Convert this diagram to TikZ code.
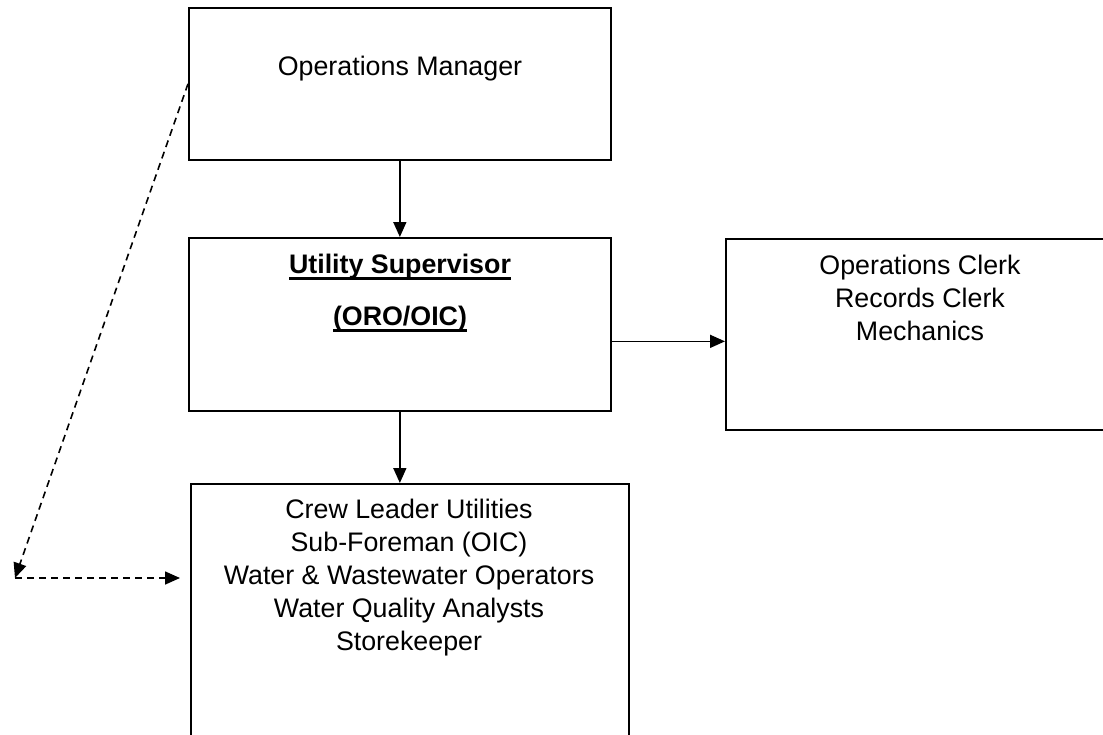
\documentclass[tikz,border=0pt]{standalone}
\usepackage{fontspec}
\setmainfont{Liberation Sans}
\usetikzlibrary{arrows.meta}
\newcommand\myul[1]{\setbox0\hbox{#1}\rlap{\rule[-6.5pt]{\wd0}{2.8pt}}\box0}
\begin{document}
\begin{tikzpicture}[x=1pt,y=-1pt,
  box/.style={draw,line width=1.7pt,rectangle,inner sep=0pt,anchor=north west},
  lbl/.style={font=\fontsize{26.8}{33}\selectfont,align=center,inner sep=0pt,anchor=base},
  arr/.style={line width=1.6pt,-{Triangle[length=15pt,width=13pt]}},
  darr/.style={arr,dash pattern=on 7pt off 5pt}]
\useasboundingbox[fill=white] (0,0) rectangle (1103,734);
% boxes
\node[box,minimum width=422pt,minimum height=152pt] (om) at (188,7) {};
\node[box,minimum width=422pt,minimum height=173pt] (us) at (188,237) {};
\node[box,minimum width=400pt,minimum height=191pt] (rb) at (725,238) {};
\node[box,minimum width=438pt,minimum height=270pt] (bb) at (190,483) {};
% texts (anchor base = baseline of the last line)
\node[lbl] (omt) at (400,75) {Operations Manager};
\node[lbl] (ust) at (400,325) {\textbf{\myul{Utility Supervisor}}\\[19pt]\textbf{\myul{(ORO/OIC)}}};
\node[lbl] (rbt) at (920,340) {Operations Clerk\\Records Clerk\\Mechanics};
\node[lbl] (bbt) at (409,650) {Crew Leader Utilities\\Sub-Foreman (OIC)\\Water \& Wastewater Operators\\Water Quality Analysts\\Storekeeper};
% connectors
\draw[arr] (om.south) -- (us.north);
\draw[arr] (us.south) -- (bb.north -| us.south);
\draw[arr] ([yshift=-17pt]us.east) -- ([yshift=-17pt]us.east -| rb.west);
\coordinate (c) at (15,578);
\coordinate (t) at (180,578);
\draw[darr] (om.west) -- (c);
\draw[darr] (c) -- (t);
\end{tikzpicture}
\end{document}
